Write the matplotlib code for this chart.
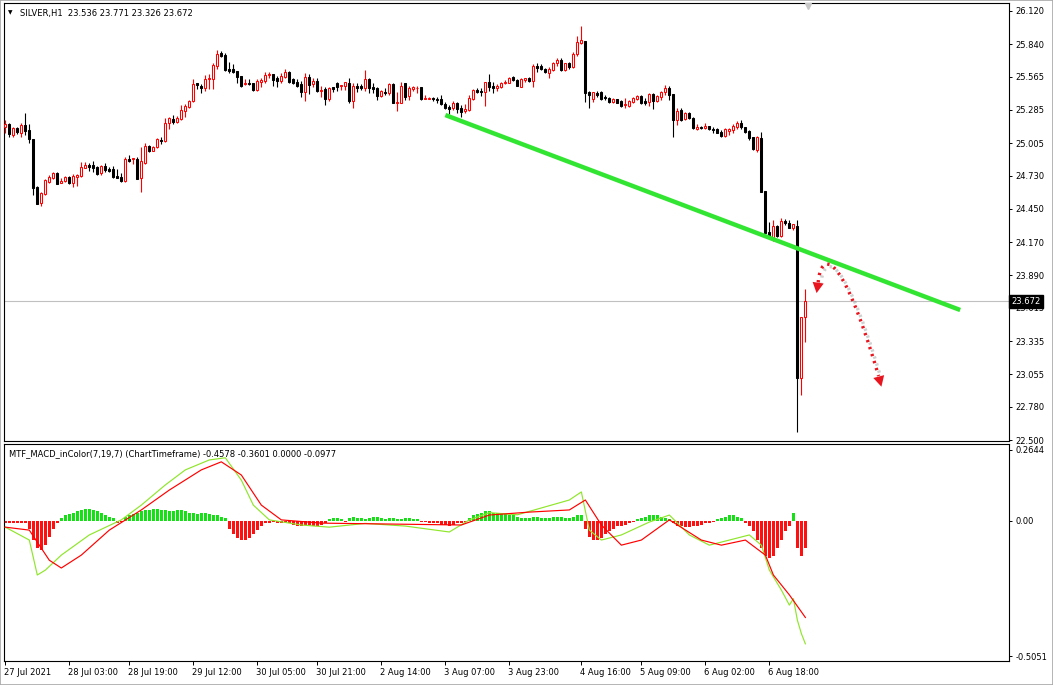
import matplotlib
matplotlib.use("Agg")
import matplotlib.pyplot as plt
from matplotlib.patches import FancyArrowPatch, Rectangle, PathPatch
from matplotlib.path import Path
import matplotlib.patheffects as pe
import matplotlib.transforms as mtrans

plt.rcParams['font.family'] = ['DejaVu Sans']

# ---------------- data (SILVER H1) ----------------
opens = [25.141,25.166,25.076,25.133,25.093,25.158,25.116,25.040,24.637,24.497,
24.576,24.680,24.713,24.756,24.671,24.685,24.722,24.671,24.722,24.730,
24.798,24.820,24.823,24.806,24.750,24.815,24.784,24.787,24.730,24.722,
24.685,24.871,24.869,24.874,24.708,24.840,24.981,24.941,24.970,25.034,
25.020,25.177,25.209,25.183,25.206,25.279,25.313,25.363,25.510,25.487,
25.473,25.544,25.546,25.656,25.768,25.749,25.631,25.631,25.614,25.571,
25.501,25.510,25.515,25.453,25.518,25.532,25.577,25.588,25.552,25.532,
25.566,25.605,25.544,25.523,25.501,25.439,25.566,25.501,25.532,25.445,
25.459,25.375,25.479,25.510,25.490,25.490,25.515,25.363,25.487,25.490,
25.468,25.546,25.481,25.468,25.403,25.439,25.425,25.501,25.346,25.346,
25.515,25.403,25.464,25.468,25.481,25.378,25.378,25.384,25.380,25.375,
25.335,25.313,25.299,25.341,25.304,25.276,25.285,25.378,25.453,25.447,
25.439,25.521,25.487,25.468,25.481,25.510,25.515,25.560,25.538,25.481,
25.538,25.552,25.529,25.658,25.658,25.631,25.599,25.622,25.679,25.707,
25.622,25.679,25.645,25.755,25.853,25.867,25.439,25.378,25.431,25.439,
25.397,25.384,25.355,25.375,25.361,25.324,25.318,25.355,25.378,25.403,
25.361,25.355,25.420,25.361,25.397,25.439,25.473,25.417,25.200,25.285,
25.206,25.262,25.215,25.127,25.141,25.130,25.150,25.124,25.124,25.102,
25.068,25.108,25.116,25.144,25.177,25.139,25.110,25.054,24.947,25.051,
24.601,24.253,24.216,24.306,24.224,24.348,24.328,24.291,24.306,23.021,
23.536]
highs = [25.200,25.175,25.139,25.139,25.172,25.262,25.166,25.040,24.646,24.595,
24.705,24.736,24.761,24.761,24.708,24.728,24.728,24.745,24.745,24.843,
24.843,24.840,24.854,24.815,24.820,24.835,24.806,24.815,24.784,24.756,
24.891,24.902,24.877,24.886,24.975,25.004,24.989,24.981,25.046,25.059,
25.215,25.228,25.242,25.234,25.327,25.333,25.369,25.544,25.515,25.504,
25.582,25.588,25.679,25.791,25.783,25.763,25.687,25.670,25.614,25.571,
25.544,25.544,25.515,25.544,25.557,25.603,25.605,25.588,25.571,25.599,
25.628,25.611,25.557,25.546,25.532,25.594,25.586,25.552,25.552,25.487,
25.481,25.481,25.481,25.518,25.498,25.521,25.552,25.510,25.510,25.501,
25.622,25.552,25.510,25.481,25.453,25.468,25.515,25.510,25.439,25.518,
25.515,25.487,25.490,25.490,25.481,25.411,25.397,25.392,25.397,25.411,
25.355,25.327,25.361,25.355,25.327,25.333,25.411,25.462,25.468,25.468,
25.523,25.588,25.523,25.504,25.523,25.538,25.560,25.571,25.544,25.552,
25.557,25.560,25.670,25.679,25.670,25.642,25.650,25.692,25.726,25.721,
25.684,25.687,25.772,25.912,25.996,25.867,25.445,25.439,25.445,25.445,
25.411,25.397,25.384,25.378,25.369,25.384,25.369,25.397,25.411,25.411,
25.384,25.431,25.425,25.411,25.447,25.496,25.487,25.417,25.299,25.299,
25.270,25.270,25.223,25.164,25.150,25.172,25.152,25.144,25.135,25.116,
25.130,25.130,25.164,25.194,25.200,25.144,25.116,25.059,25.065,25.101,
24.601,24.342,24.357,24.314,24.371,24.365,24.357,24.320,24.356,23.540,
23.771]
lows = [25.093,25.057,25.059,25.085,25.059,25.074,25.009,24.567,24.492,24.477,
24.567,24.671,24.705,24.660,24.671,24.680,24.660,24.637,24.646,24.722,
24.793,24.772,24.764,24.739,24.739,24.761,24.759,24.713,24.708,24.680,
24.677,24.846,24.829,24.700,24.595,24.829,24.930,24.936,24.961,24.998,
25.015,25.127,25.166,25.177,25.200,25.228,25.304,25.352,25.459,25.425,
25.447,25.459,25.459,25.631,25.734,25.616,25.594,25.594,25.515,25.481,
25.493,25.493,25.447,25.447,25.481,25.510,25.552,25.490,25.481,25.515,
25.557,25.515,25.501,25.481,25.392,25.363,25.420,25.481,25.439,25.397,
25.327,25.363,25.437,25.447,25.453,25.453,25.341,25.304,25.439,25.453,
25.447,25.425,25.425,25.369,25.392,25.411,25.411,25.341,25.279,25.341,
25.369,25.369,25.447,25.425,25.369,25.375,25.375,25.363,25.346,25.327,
25.290,25.251,25.285,25.262,25.228,25.257,25.279,25.369,25.425,25.403,
25.318,25.447,25.425,25.447,25.473,25.501,25.510,25.532,25.485,25.476,
25.521,25.523,25.481,25.608,25.622,25.594,25.552,25.614,25.658,25.614,
25.614,25.628,25.636,25.743,25.841,25.355,25.304,25.355,25.392,25.369,
25.369,25.346,25.346,25.341,25.307,25.299,25.307,25.346,25.369,25.333,
25.324,25.318,25.290,25.355,25.369,25.411,25.369,25.059,25.158,25.194,
25.200,25.206,25.122,25.116,25.122,25.122,25.116,25.093,25.088,25.059,
25.054,25.074,25.088,25.122,25.122,25.088,25.032,24.947,24.933,24.595,
24.240,24.216,24.182,24.213,24.216,24.314,24.286,24.272,22.570,22.880,
23.326]
closes = [25.164,25.082,25.130,25.097,25.158,25.110,25.037,24.629,24.492,24.582,
24.694,24.722,24.753,24.660,24.688,24.722,24.666,24.728,24.739,24.801,
24.820,24.806,24.793,24.745,24.812,24.778,24.770,24.722,24.713,24.688,
24.871,24.857,24.877,24.705,24.854,24.981,24.939,24.970,25.037,25.020,
25.177,25.217,25.183,25.217,25.285,25.318,25.358,25.501,25.493,25.473,
25.544,25.555,25.664,25.757,25.743,25.622,25.616,25.605,25.566,25.490,
25.515,25.501,25.453,25.532,25.538,25.580,25.586,25.538,25.532,25.571,
25.605,25.523,25.510,25.490,25.439,25.566,25.496,25.532,25.447,25.453,
25.375,25.473,25.462,25.481,25.498,25.521,25.361,25.490,25.473,25.468,
25.546,25.473,25.459,25.403,25.447,25.425,25.501,25.346,25.355,25.490,
25.397,25.473,25.479,25.473,25.375,25.386,25.386,25.375,25.369,25.333,
25.301,25.290,25.346,25.293,25.268,25.293,25.383,25.453,25.439,25.434,
25.518,25.481,25.468,25.487,25.510,25.523,25.552,25.538,25.490,25.544,
25.552,25.529,25.658,25.641,25.628,25.608,25.628,25.684,25.707,25.622,
25.679,25.645,25.757,25.856,25.875,25.431,25.411,25.434,25.411,25.378,
25.384,25.355,25.378,25.346,25.318,25.333,25.361,25.389,25.403,25.341,
25.346,25.420,25.361,25.403,25.439,25.468,25.411,25.200,25.276,25.200,
25.262,25.215,25.130,25.141,25.130,25.152,25.122,25.116,25.093,25.068,
25.122,25.122,25.150,25.177,25.144,25.102,25.046,24.953,25.054,24.595,
24.250,24.222,24.306,24.222,24.348,24.334,24.291,24.320,23.021,23.535,
23.672]

# MTF_MACD_inColor(7,19,7) histogram, one value per bar
hist = ([-0.01]*6 +
        [-0.03,-0.07,-0.10,-0.11,-0.09,-0.06,-0.03,-0.01] +
        [0.01,0.02,0.025,0.03,0.035,0.04,0.045,0.045,0.04,0.035,0.03,0.02,0.015,0.01] +
        [-0.01,-0.005] +
        [0.015,0.02,0.025,0.03,0.035,0.04,0.04,0.045,0.045,0.04,0.04,0.035,0.035,0.04,0.04,
         0.035,0.03,0.03,0.025,0.03,0.03,0.025,0.02,0.02,0.015,0.01] +
        [-0.03,-0.05,-0.065,-0.07,-0.07,-0.065,-0.05,-0.035,-0.02] +
        [-0.01,-0.01,-0.005,-0.01,-0.01,-0.005,-0.01,-0.015,-0.02,-0.02,-0.015,-0.015,-0.02,-0.02,-0.015,-0.01] +
        [0.005,0.01,0.01,0.005,-0.005,0.01,0.015,0.01,0.01,0.005,0.01,0.015,0.015,0.01,0.005,
         0.01,0.01,0.005,0.005,0.01,0.01,0.005,0.005,-0.005,-0.005] +
        [-0.01,-0.01,-0.01,-0.015,-0.015,-0.02,-0.015,-0.01,-0.01,-0.005] +
        [0.01,0.02,0.025,0.03,0.035,0.035,0.03,0.03,0.025,0.025,0.02,0.02,0.015] +
        [0.01,0.01,0.01,0.015,0.015,0.01,0.01,0.01,0.015,0.015,0.015,0.01,0.01,0.015,0.02] +
        [0.02] +
        [-0.03,-0.06,-0.07,-0.07,-0.065,-0.05,-0.04] +
        [-0.03,-0.02,-0.02,-0.015,-0.01,-0.005,0.005] +
        [0.01,0.015,0.02,0.02,0.02,0.015,0.01,0.005] +
        [-0.01,-0.02,-0.02,-0.025,-0.025,-0.02,-0.02,-0.015,-0.01,-0.01,-0.005] +
        [0.005,0.01,0.015,0.02,0.02,0.015,0.01] +
        [-0.01,-0.02,-0.04,-0.07,-0.10,-0.13,-0.14,-0.13,-0.10,-0.07,-0.04,-0.02] +
        [0.03] +
        [-0.10,-0.13,-0.10])

macd_idx = [0,6,8,10,14,21,29,34,40,45,51,55,59,62,66,74,81,90,100,111,116,121,128,141,144,
            146,149,154,161,166,171,176,181,186,189,191,194,196,197,198,199,200]
macd_val = [-0.024,-0.072,-0.202,-0.184,-0.128,-0.053,0.003,0.058,0.133,0.189,0.226,0.234,
            0.151,0.058,0.003,-0.016,-0.024,-0.01,-0.02,-0.042,0.003,0.03,0.022,0.077,0.107,
            -0.035,-0.072,-0.053,-0.005,0.021,-0.053,-0.091,-0.072,-0.053,-0.091,-0.184,-0.258,
            -0.314,-0.29,-0.37,-0.42,-0.458]
sig_idx = [0,6,11,14,19,26,34,41,49,54,59,64,69,79,114,121,131,141,145,149,154,159,166,
           174,179,185,190,192,196,200]
sig_val = [-0.024,-0.035,-0.147,-0.176,-0.128,-0.035,0.040,0.114,0.189,0.219,0.170,0.058,
           0.003,-0.009,-0.016,0.021,0.032,0.040,0.077,-0.016,-0.091,-0.072,0.003,-0.072,
           -0.091,-0.072,-0.128,-0.202,-0.276,-0.360]

time_tick_idx = [0,16,31,47,63,78,94,110,126,144,159,175,191]
time_labels = ['27 Jul 2021','28 Jul 03:00','28 Jul 19:00','29 Jul 12:00','30 Jul 05:00',
               '30 Jul 21:00','2 Aug 14:00','3 Aug 07:00','3 Aug 23:00','4 Aug 16:00',
               '5 Aug 09:00','6 Aug 02:00','6 Aug 18:00']
price_ticks = [26.120,25.840,25.565,25.285,25.005,24.730,24.450,24.170,23.890,23.615,
               23.335,23.055,22.780,22.500]
macd_ticks = [0.2644, 0.0, -0.5051]
macd_tick_labels = ['0.2644', '0.00', '-0.5051']
last_price = 23.672

# trend line drawing (bar index, price) and curved arrow (bar index, price)
trend_x = [110, 238.7]
trend_y = [25.242, 23.597]
arrow_pts = [(203.2, 23.830), (203.9, 24.086), (208.7, 24.145), (218.3, 23.040)]
head_start = ((203.2, 23.830), (202.8, 23.740))   # (from, to)
head_end = ((218.3, 23.040), (219.0, 22.950))

n = len(closes)
assert len(opens) == len(highs) == len(lows) == n == len(hist)

# ---------------- figure ----------------
W, H = 1053, 685
fig = plt.figure(figsize=(W/100, H/100), dpi=100)
fig.patch.set_facecolor('white')

def fx(px): return px / W
def fy(py): return 1 - py / H

L, R = 3.5, 1009
ax1 = fig.add_axes([fx(L), fy(441), fx(R - L), (441 - 3) / H])
ax2 = fig.add_axes([fx(L), fy(661), fx(R - L), (661 - 444) / H])

xlim = (-0.45, 250.9)
FS = 6.0
for ax in (ax1, ax2):
    ax.set_xlim(*xlim)
    ax.set_facecolor('white')
    for s in ax.spines.values():
        s.set_linewidth(0.8)
        s.set_color('black')
    ax.yaxis.tick_right()
    ax.tick_params(axis='y', direction='out', length=2.5, width=0.7, pad=2,
                   labelsize=FS, colors='black')

ax1.set_ylim(22.4916, 26.1875)
ax2.set_ylim(-0.5219, 0.2853)

# candles
up_col, dn_col = '#ff0000', '#000000'
bw = 0.55
for i in range(n):
    o, h, l, c = opens[i], highs[i], lows[i], closes[i]
    up = c >= o
    col = up_col if up else dn_col
    ax1.vlines(i, l, h, color=col, lw=0.8, zorder=2)
    bot, top = min(o, c), max(o, c)
    ht = max(top - bot, 0.002)
    ax1.add_patch(Rectangle((i - bw/2, bot), bw, ht,
                            facecolor='white' if up else 'black',
                            edgecolor=col, lw=0.75, zorder=3))

# current price line
ax1.axhline(last_price, color='#c0c0c0', lw=0.8, zorder=1)

# trend line
ax1.plot(trend_x, trend_y, color='#33e533', lw=3.2, solid_capstyle='butt', zorder=4)

# curved dotted arrow (dotted body + solid heads)
arrow_red = '#e8141e'
shadow = [pe.SimpleLineShadow(offset=(1.8, -1.8), shadow_color='#777777', alpha=0.35), pe.Normal()]
codes = [Path.MOVETO, Path.CURVE4, Path.CURVE4, Path.CURVE4]
body = PathPatch(Path(arrow_pts, codes), fill=False, edgecolor=arrow_red, lw=2.4,
                 linestyle=(0, (0.7, 1.5)), zorder=5, path_effects=shadow)
ax1.add_patch(body)
for (p0, p1) in (head_start, head_end):
    ax1.annotate('', xy=p1, xytext=p0,
                 arrowprops=dict(arrowstyle='-|>,head_length=0.75,head_width=0.4',
                                 color=arrow_red, lw=0.01, mutation_scale=10,
                                 shrinkA=0, shrinkB=0),
                 zorder=6)

ax1.set_xticks([])
ax1.set_yticks(price_ticks)
ax1.set_yticklabels([f'{v:.3f}' for v in price_ticks])

# last price box
tr = mtrans.blended_transform_factory(ax1.transAxes, ax1.transData)
ax1.text(1.0025, last_price, f'{last_price:.3f}', transform=tr, ha='left', va='center',
         fontsize=FS, color='white', zorder=10, clip_on=False,
         bbox=dict(boxstyle='square,pad=0.25', facecolor='black', edgecolor='black'))

# title
ax1.text(0.0064, 0.977, '\u25BC', transform=ax1.transAxes, fontsize=4.2, ha='center', va='center')
ax1.text(0.0164, 0.977, 'SILVER,H1  23.536 23.771 23.326 23.672', transform=ax1.transAxes,
         fontsize=FS, ha='left', va='center')
# chart shift marker
ax1.plot([200.7], [26.16], marker='v', markersize=5, color='#c8c8c8', clip_on=False, zorder=6)

# MACD panel
cols = ['#16e016' if v >= 0 else '#ff1010' for v in hist]
ax2.bar(range(n), hist, width=0.62, color=cols, linewidth=0, zorder=2)
ax2.plot(macd_idx, macd_val, color='#8fe62a', lw=0.85, zorder=3)
ax2.plot(sig_idx, sig_val, color='#ff0000', lw=0.85, zorder=3)
ax2.set_yticks(macd_ticks)
ax2.set_yticklabels(macd_tick_labels)
ax2.set_xticks(time_tick_idx)
ax2.set_xticklabels(time_labels, ha='left')
ax2.tick_params(axis='x', direction='out', length=3, width=0.7, pad=2, labelsize=FS)
for lab in ax2.get_xticklabels():
    lab.set_transform(lab.get_transform() + mtrans.ScaledTranslation(-1/100, 0, fig.dpi_scale_trans))
ax2.text(0.0055, 0.954, 'MTF_MACD_inColor(7,19,7) (ChartTimeframe) -0.4578 -0.3601 0.0000 -0.0977',
         transform=ax2.transAxes, fontsize=FS, ha='left', va='center')

# window frame
fig.patches.append(Rectangle((0, 0), 1, 1, transform=fig.transFigure, fill=False,
                             edgecolor='#a8a8a8', lw=1.2))

fig.savefig('out.png', dpi=100, facecolor='white')
